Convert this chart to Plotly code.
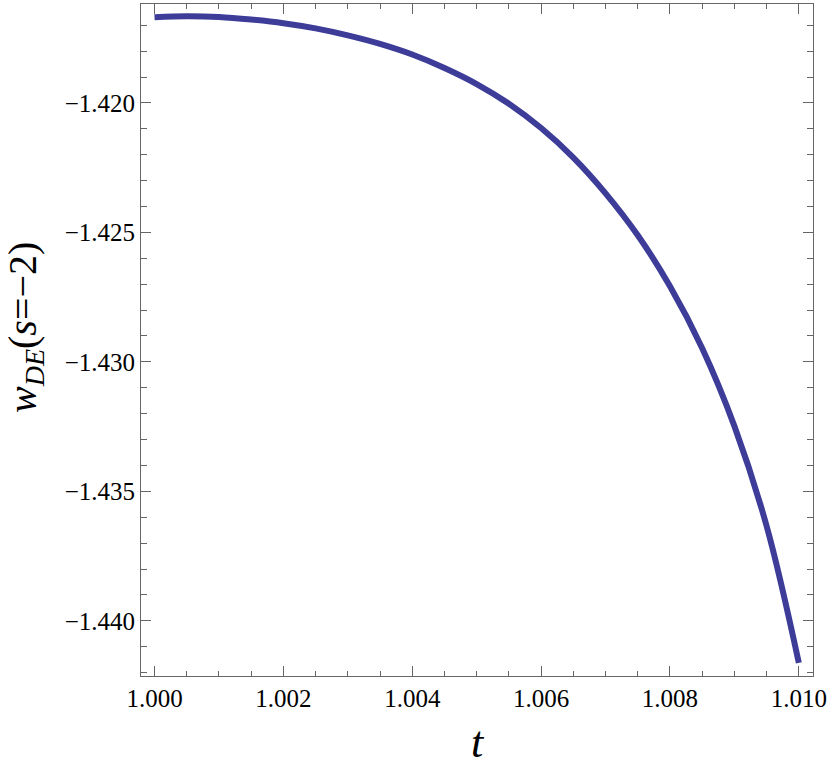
import plotly.graph_objects as go

# values
t_vals = [1.0000, 1.0005, 1.0010, 1.0015, 1.0020, 1.0025, 1.0030, 1.0035,
          1.0040, 1.0045, 1.0050, 1.0055, 1.0060, 1.0065, 1.0070, 1.0075,
          1.0080, 1.0085, 1.0090, 1.0095, 1.0100]
w_vals = [-1.41669, -1.41665, -1.41668, -1.41678, -1.41692, -1.41712, -1.41739, -1.41772,
          -1.41813, -1.41865, -1.41927, -1.42003, -1.42097, -1.42211, -1.42349, -1.42511,
          -1.42708, -1.42947, -1.43248, -1.43634, -1.44162]

x_ticks = [1.000, 1.002, 1.004, 1.006, 1.008, 1.010]
x_labels = ["1.000", "1.002", "1.004", "1.006", "1.008", "1.010"]
y_ticks = [-1.420, -1.425, -1.430, -1.435, -1.440]
y_labels = ["\u22121.420", "\u22121.425", "\u22121.430", "\u22121.435", "\u22121.440"]

fig = go.Figure()
fig.add_trace(go.Scatter(x=t_vals, y=w_vals, mode="lines",
                         line=dict(color="rgb(61,61,153)", width=6, shape="spline"),
                         showlegend=False))

font = "Liberation Serif, Times New Roman, serif"
frame = "#666666"

fig.update_xaxes(
    range=[0.99979, 1.01022], showgrid=False, zeroline=False,
    showline=True, linecolor=frame, linewidth=1, mirror="allticks",
    ticks="inside", ticklen=10, tickcolor=frame, tickwidth=1,
    tickvals=x_ticks, ticktext=x_labels,
    tickfont=dict(family=font, size=25, color="black"),
    minor=dict(dtick=0.0005, ticks="inside", ticklen=5, tickcolor=frame, showgrid=False),
    title=dict(text="<i>t</i>", font=dict(family=font, size=44, color="black"), standoff=19),
)
fig.update_yaxes(
    range=[-1.44213, -1.41618], showgrid=False, zeroline=False,
    showline=True, linecolor=frame, linewidth=1, mirror="allticks",
    ticks="inside", ticklen=10, tickcolor=frame, tickwidth=1,
    tickvals=y_ticks, ticktext=y_labels,
    tickfont=dict(family=font, size=25, color="black"),
    minor=dict(dtick=0.001, tick0=-1.44, ticks="inside", ticklen=6, tickcolor=frame, showgrid=False),
)
fig.add_annotation(
    text="<i>w</i><sub><i>DE</i></sub>(<i>s</i>=\u22122)",
    xref="paper", yref="paper", x=-0.1734, y=0.5186,
    xanchor="center", yanchor="middle", textangle=-90, showarrow=False,
    font=dict(family=font, size=40, color="black"),
)
fig.update_layout(
    width=830, height=767,
    margin=dict(l=141, r=14, t=3, b=91),
    plot_bgcolor="white", paper_bgcolor="white",
)

fig.write_html("out.html", config={"displayModeBar": False},
               post_script="document.body.style.margin='0px';")
